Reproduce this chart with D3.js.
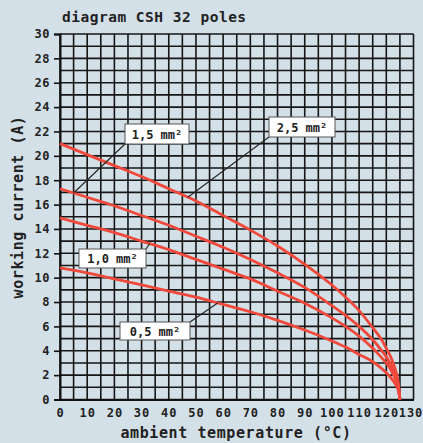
<!DOCTYPE html>
<html><head><meta charset="utf-8">
<script src="https://cdn.jsdelivr.net/npm/d3@7"></script>
<style>
html,body{margin:0;padding:0;background:#d4e0e8;}
svg{display:block;}
text{font-family:"DejaVu Sans Mono",monospace;font-weight:bold;fill:#222;}
</style></head><body>
<svg id="c" width="423" height="443"></svg>
<script>
const temps = [0,10,20,30,40,50,60,70,80,90,100,105,110,115,118,120,122,124,125];
const i25 = [21.0,20.1,19.2,18.3,17.3,16.3,15.1,13.9,12.6,11.1,9.4,8.4,7.3,5.9,5.0,4.2,3.3,1.9,0];
const i15 = [17.3,16.6,15.9,15.1,14.3,13.4,12.5,11.5,10.4,9.2,7.7,6.9,6.0,4.9,4.1,3.5,2.7,1.5,0];
const i10 = [14.9,14.3,13.7,13.0,12.3,11.5,10.7,9.9,8.9,7.9,6.7,6.0,5.2,4.2,3.5,3.0,2.3,1.3,0];
const i05 = [10.8,10.4,9.9,9.4,8.9,8.4,7.8,7.2,6.5,5.7,4.8,4.3,3.7,3.1,2.6,2.2,1.7,1.0,0];
const xTicks = [0,10,20,30,40,50,60,70,80,90,100,110,120,130];
const yTicks = [0,2,4,6,8,10,12,14,16,18,20,22,24,26,28,30];
const labels = [
  {text:"2,5 mm²", series:i25, at:47, box:[269,117,66,20]},
  {text:"1,5 mm²", series:i15, at:5, box:[125,124,64,20]},
  {text:"1,0 mm²", series:i10, at:33, box:[79,249,67,19]},
  {text:"0,5 mm²", series:i05, at:58, box:[120,322,70,18]}
];
const title = "diagram CSH 32 poles";
const xTitle = "ambient temperature (°C)";
const yTitle = "working current (A)";

const svg = d3.select("#c");
const x = d3.scaleLinear().domain([0,130]).range([60,413.5]);
const y = d3.scaleLinear().domain([0,30]).range([399.5,34]);

// grid
const g = svg.append("g");
g.selectAll("line.v").data(d3.range(0,131,5)).join("line")
  .attr("x1",d=>x(d)).attr("x2",d=>x(d)).attr("y1",y(0)).attr("y2",y(30))
  .attr("stroke","#161616").attr("stroke-width",1.6);
g.selectAll("line.h").data(d3.range(0,31,1)).join("line")
  .attr("y1",d=>y(d)).attr("y2",d=>y(d)).attr("x1",x(0)).attr("x2",x(130))
  .attr("stroke","#161616").attr("stroke-width",1.6);

// axes
const ax = svg.append("g").attr("transform",`translate(0,${y(0)})`)
  .call(d3.axisBottom(x).tickValues(xTicks).tickSize(0).tickPadding(9).tickFormat(d3.format("d")));
ax.select(".domain").attr("stroke","#111").attr("stroke-width",2);
ax.selectAll("text").attr("font-size",12).attr("letter-spacing",1).attr("fill","#222")
  .attr("font-family","DejaVu Sans Mono").attr("font-weight","bold");
ax.selectAll(".tick").filter(d=>d===130).select("text").attr("dx",-3);
const ay = svg.append("g").attr("transform",`translate(${x(0)},0)`)
  .call(d3.axisLeft(y).tickValues(yTicks).tickSize(6).tickPadding(4).tickFormat(d3.format("d")));
ay.select(".domain").attr("stroke","#111").attr("stroke-width",2);
ay.selectAll(".tick line").attr("stroke","#111").attr("stroke-width",1.6);
ay.selectAll("text").attr("font-size",12).attr("letter-spacing",0.5).attr("fill","#222")
  .attr("font-family","DejaVu Sans Mono").attr("font-weight","bold");

// curves
const line = d3.line().x((d,i)=>x(temps[i])).y(d=>y(d)).curve(d3.curveCatmullRom.alpha(0.5));
[i25,i15,i10,i05].forEach(s=>{
  svg.append("path").attr("d",line(s)).attr("fill","none")
    .attr("stroke","#f0483a").attr("stroke-width",2.8);
});

// labels
function valAt(series,t){
  const j = d3.bisectRight(temps,t)-1;
  const f = (t-temps[j])/(temps[j+1]-temps[j]);
  return series[j]+(series[j+1]-series[j])*f;
}
labels.forEach(l=>{
  const [bx,by,bw,bh]=l.box;
  const px=x(l.at), py=y(valAt(l.series,l.at));
  const cx = px < bx ? bx : (px > bx+bw ? bx+bw : px);
  const cy = py > by+bh ? by+bh : by;
  svg.append("line").attr("x1",cx).attr("y1",cy).attr("x2",px).attr("y2",py)
    .attr("stroke","#222").attr("stroke-width",1.1);
  svg.append("rect").attr("x",bx).attr("y",by).attr("width",bw).attr("height",bh)
    .attr("fill","#fff").attr("stroke","#555").attr("stroke-width",1);
  svg.append("text").attr("x",bx+bw/2).attr("y",by+bh/2+4.5).attr("text-anchor","middle")
    .attr("font-size",12).attr("font-family","DejaVu Sans Mono").text(l.text);
});

svg.append("text").attr("x",62).attr("y",22).attr("font-family","DejaVu Sans")
  .attr("font-size",14.5).attr("letter-spacing",0.5).text(title);
svg.append("text").attr("x",236).attr("y",438).attr("text-anchor","middle")
  .attr("font-family","DejaVu Sans").attr("font-size",15).attr("letter-spacing",0.6).text(xTitle);
svg.append("text").attr("transform","translate(23,207) rotate(-90)").attr("text-anchor","middle")
  .attr("font-family","DejaVu Sans").attr("font-size",15).attr("letter-spacing",0.6).text(yTitle);
</script>
</body></html>
